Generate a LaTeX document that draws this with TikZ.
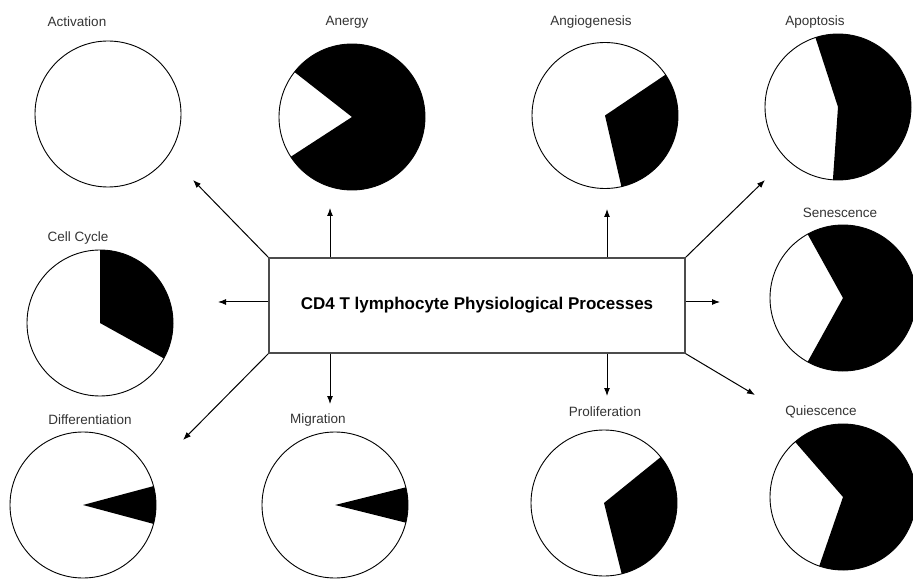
\documentclass[tikz,border=0pt]{standalone}
\usepackage{fontspec}
\setmainfont{Liberation Sans}
\usetikzlibrary{positioning}
\usetikzlibrary{arrows.meta,shapes}
\usetikzlibrary{calc}
\tikzstyle{pie}=[circle,draw,minimum size=146pt,inner sep=0pt,line width=0.9pt]
\tikzstyle{proc}=[draw=black!70,line width=1.3pt,minimum width=416pt,minimum height=95pt,inner sep=0pt,font=\fontsize{17}{20}\selectfont\bfseries]
\tikzstyle{title}=[font=\fontsize{13.5}{16}\selectfont,text=black!80]
\tikzstyle{edge}=[draw,line width=1pt,-{Latex[length=8pt,width=6pt]}]

\begin{document}
\begin{tikzpicture}[x=1pt,y=1pt]

  \def\r{73};
  \useasboundingbox (0,0) rectangle (913,579);

  \node[proc] (cd4) at (477,273.5) {CD4 T lymphocyte Physiological Processes};

  % pies: centre, name, black sector from a to b
  \node[pie] (act) at (108,465) {};
  \foreach \x/\y/\name/\a/\b in {352/462/anergy/213/502, 605/463.5/angio/-77/34,
          838/472/apop/-94/108, 100/256/cycle/-29/90, 843/281/senes/-119/119,
          83/74/diff/-15/15, 335/74/migr/-14/14, 604/76/prolif/-76/39, 843/82/quies/-109/131}
  {
    \node[pie] (\name) at (\x,\y) {};
    \fill (\name.center) -- ++(\a:\r) arc (\a:\b:\r) -- cycle;
  }

  \foreach \x/\y/\name/\label in {77/557/tact/Activation, 347/557/tanergy/Anergy, 591/557/tangio/Angiogenesis,
          815/557/tapop/Apoptosis, 78/341/tcycle/Cell Cycle, 840/366/tsenes/Senescence,
          90/159/tdiff/Differentiation, 318/159/tmigr/Migration, 605/167/tprolif/Proliferation, 821/167/tquies/Quiescence}
         \node[title] (\name) at (\x,\y) {\label};

  % arrow ends
  \coordinate (upleft) at (193,399);
  \coordinate (upA) at (330,371);
  \coordinate (upB) at (607,370);
  \coordinate (upright) at (765,399);
  \coordinate (left) at (218,277);
  \coordinate (right) at (720,277);
  \coordinate (downleft) at (183,139);
  \coordinate (downA) at (330,175);
  \coordinate (downB) at (607,183);
  \coordinate (downright) at (755,184);

  \draw[edge] (cd4.north west) -- (upleft);
  \draw[edge] (upA |- cd4.north) -- (upA);
  \draw[edge] (upB |- cd4.north) -- (upB);
  \draw[edge] (cd4.north east) -- (upright);
  \draw[edge] (cd4.west |- left) -- (left);
  \draw[edge] (cd4.east |- right) -- (right);
  \draw[edge] (cd4.south west) -- (downleft);
  \draw[edge] (downA |- cd4.south) -- (downA);
  \draw[edge] (downB |- cd4.south) -- (downB);
  \draw[edge] (cd4.south east) -- (downright);

\end{tikzpicture}
\end{document}
